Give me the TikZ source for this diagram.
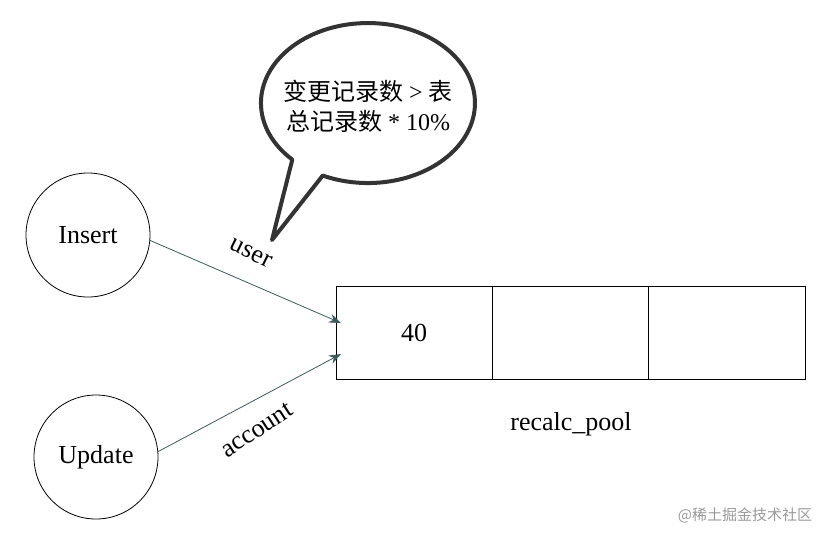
\documentclass[tikz,border=0pt]{standalone}
\usepackage{fontspec}
\setmainfont{Liberation Serif}
\newfontfamily\cjk{Noto Sans CJK SC}
\usetikzlibrary{arrows.meta}
\definecolor{arr}{RGB}{60,90,90}
\begin{document}
\begin{tikzpicture}[x=1pt,y=-1pt,
  circ/.style={draw,thick,circle,minimum size=124pt,inner sep=0pt,font=\fontsize{26}{26}\selectfont},
  cell/.style={draw,thick,minimum width=156.3pt,minimum height=93pt,inner sep=0pt,font=\fontsize{26}{26}\selectfont},
  conn/.style={draw=arr,thick,-{Stealth[length=12pt,width=9pt]}},
  lab/.style={font=\fontsize{26}{26}\selectfont}]
\useasboundingbox (0,0) rectangle (840,542);
\node[circ] (ins) at (88,235) {Insert};
\node[circ] (upd) at (96,457) {Update};
\node[cell] (c1) at (414.2,332.5) {40};
\node[cell] (c2) at (570.5,332.5) {};
\node[cell] (c3) at (726.8,332.5) {};
\node[lab] (rp) at (571,424) {recalc\_pool};
\coordinate (t1) at (341,323);
\coordinate (t2) at (341,354);
\draw[conn] (ins.-5) -- (t1);
\draw[conn] (upd.5) -- (t2);
\node[lab,rotate=-26] (u) at (251,253) {user};
\node[lab,rotate=33] (a) at (257,430) {account};
\draw[line width=4pt,draw=black!80,fill=white,line join=round]
  (292.3,159.6) arc[start angle=135,end angle=475,x radius=107,y radius=80]
  -- (272,240) -- cycle;
\node[align=center,font=\fontsize{24}{24}\selectfont] (b) at (368,106) {{\cjk 变更记录数} > {\cjk 表}\\[6pt]{\cjk 总记录数} * 10\%};
\node[font=\cjk\fontsize{15}{15}\selectfont,text=black!40] (wm) at (745,515) {@稀土掘金技术社区};
\end{tikzpicture}
\end{document}
